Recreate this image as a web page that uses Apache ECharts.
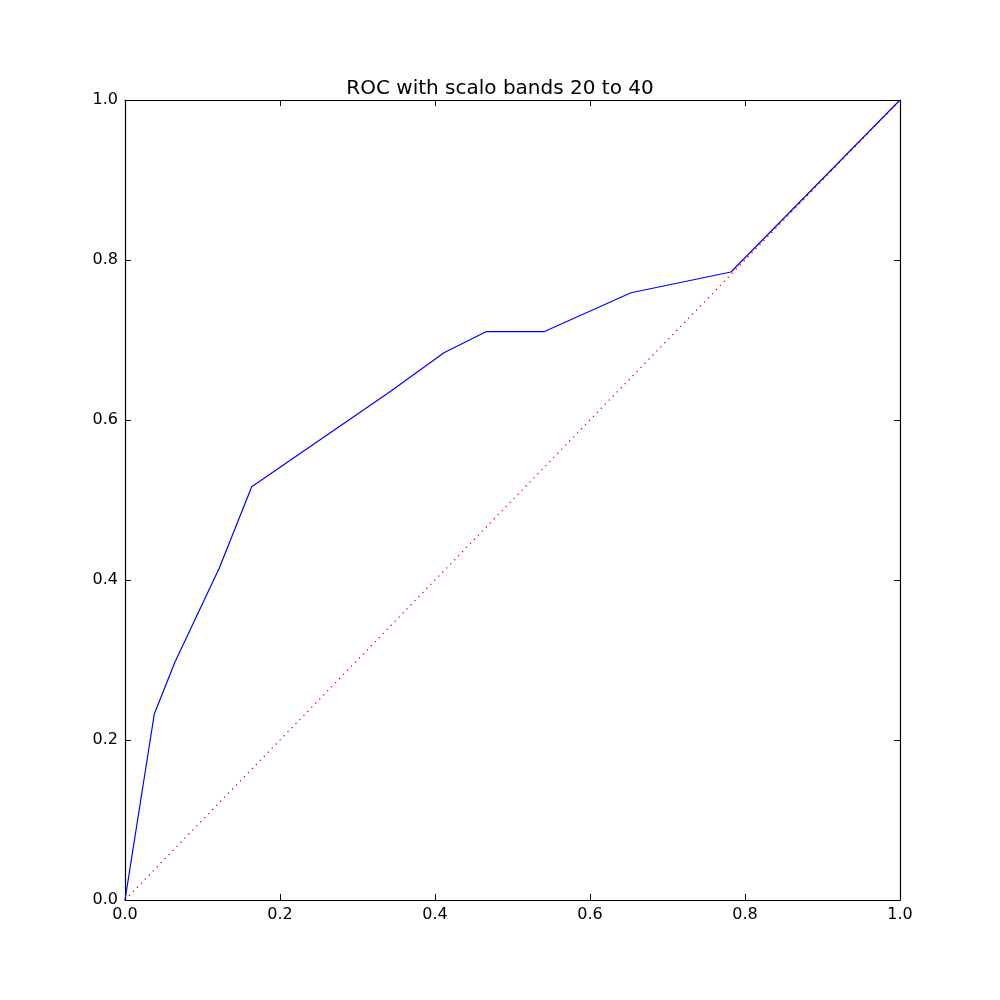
<!DOCTYPE html>
<html>
<head>
<meta charset="utf-8">
<script src="https://cdn.jsdelivr.net/npm/echarts@6/dist/echarts.min.js"></script>
<style>html,body{margin:0;padding:0;background:#fff;}#c{width:1000px;height:1000px;}</style>
</head>
<body>
<div id="c"></div>
<script>
var titleText = 'ROC with scalo bands 20 to 40';
var fpr = [0.0, 0.0378, 0.0645, 0.1217, 0.1635, 0.3419, 0.4116, 0.4658, 0.5406, 0.6529, 0.7819, 1.0];
var tpr = [0.0, 0.2325, 0.2975, 0.4150, 0.5166, 0.6354, 0.6841, 0.7104, 0.7104, 0.7591, 0.7850, 1.0];
var chanceX = [0.0, 1.0];
var chanceY = [0.0, 1.0];

function pairs(xs, ys) { return xs.map(function (x, i) { return [x, ys[i]]; }); }
var font = 'DejaVu Sans';
function fmt(v) { return v.toFixed(1); }

function ax(position, showLabel) {
  return {
    type: 'value', min: 0, max: 1, interval: 0.2, position: position,
    axisLine: { show: true, onZero: false, lineStyle: { color: '#000', width: 1.2 } },
    axisTick: { show: true, inside: true, length: 6, lineStyle: { color: '#000', width: 1 } },
    splitLine: { show: false },
    axisLabel: { show: showLabel, margin: 7, formatter: fmt, fontFamily: font, fontSize: 16, color: '#000', showMinLabel: true, showMaxLabel: true }
  };
}

var chart = echarts.init(document.getElementById('c'), null, { renderer: 'canvas' });
chart.setOption({
  animation: false,
  backgroundColor: '#fff',
  title: {
    text: titleText, left: 'center', top: 74,
    textStyle: { fontFamily: font, fontSize: 20, fontWeight: 'normal', color: '#000' }
  },
  grid: { left: 125, right: 100, top: 100, bottom: 100, show: false },
  xAxis: [ax('bottom', true), ax('top', false)],
  yAxis: [ax('left', true), ax('right', false)],
  series: [
    {
      type: 'line', xAxisIndex: 1, yAxisIndex: 1, data: pairs(chanceX, chanceY), showSymbol: false, symbol: 'none',
      lineStyle: { color: '#ff0000', width: 1.3, type: [1.3, 4.4] }, z: 2
    },
    {
      type: 'line', xAxisIndex: 0, yAxisIndex: 0, data: pairs(fpr, tpr), showSymbol: false, symbol: 'none',
      lineStyle: { color: '#0000ff', width: 1.2 }, z: 3
    }
  ]
});
</script>
</body>
</html>
